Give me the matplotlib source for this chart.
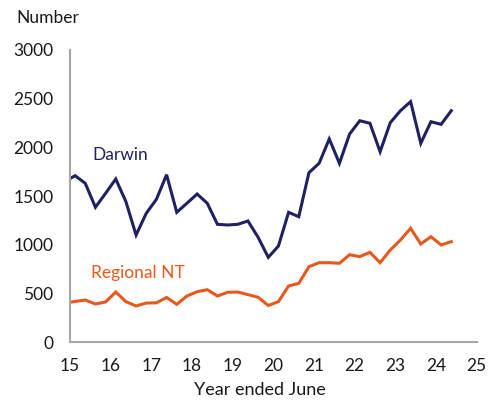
import matplotlib
matplotlib.use("Agg")
import matplotlib.pyplot as plt
import numpy as np

# Quarterly observations (x in "year ended June" units)
x_start = 14.875
darwin = [1650, 1710, 1632, 1386, 1529, 1676, 1443, 1101, 1324, 1468,
          1720, 1334, 1427, 1522, 1427, 1211, 1204, 1211, 1245, 1078,
          872, 988, 1334, 1289, 1741, 1837, 2087, 1837, 2138, 2274,
          2248, 1956, 2254, 2377, 2470, 2042, 2264, 2237, 2377]
regional = [403, 419, 434, 393, 414, 516, 417, 373, 403, 405,
            460, 390, 475, 519, 540, 475, 513, 516, 489, 462,
            378, 417, 578, 605, 776, 817, 817, 811, 899, 879,
            924, 817, 947, 1050, 1170, 1009, 1084, 999, 1033]
x = x_start + 0.25 * np.arange(len(darwin))

xticks = list(range(15, 26))
yticks = [0, 500, 1000, 1500, 2000, 2500, 3000]

navy = "#1f2161"
orange = "#e8581c"
grey = "#a6a6a6"

plt.rcParams["font.family"] = ["Lato", "DejaVu Sans"]

fig = plt.figure(figsize=(5.01, 4.0), dpi=100)
ax = fig.add_axes([70/501, 1 - 342.3/400, (476.7-70)/501, (342.3-50)/400])

ax.plot(x, darwin, color=navy, lw=2.2, solid_joinstyle="miter", clip_on=True)
ax.plot(x, regional, color=orange, lw=2.2, solid_joinstyle="miter", clip_on=True)

ax.set_xlim(15, 25)
ax.set_ylim(0, 3000)
ax.set_xticks(xticks)
ax.set_xticklabels([str(t) for t in xticks])
ax.set_yticks(yticks)
ax.set_yticklabels([str(t) for t in yticks])
ax.tick_params(length=0, labelsize=12.5, colors="#1a1a1a")
ax.tick_params(axis="y", pad=12)
ax.tick_params(axis="x", pad=11)

for s in ["top", "right"]:
    ax.spines[s].set_visible(False)
for s in ["left", "bottom"]:
    ax.spines[s].set_color(grey)
    ax.spines[s].set_linewidth(1.5)

ax.text(15.55, 1925, "Darwin", color=navy, fontsize=12.5, ha="left", va="center")
ax.text(15.52, 715, "Regional NT", color=orange, fontsize=12.5, ha="left", va="center")

fig.text(16/501, 1 - 18/400, "Number", fontsize=12.5, ha="left", va="center", color="#1a1a1a")
fig.text(260/501, 1 - 390/400, "Year ended June", fontsize=13, ha="center", va="center", color="#1a1a1a")

fig.savefig("out.png", dpi=100)
